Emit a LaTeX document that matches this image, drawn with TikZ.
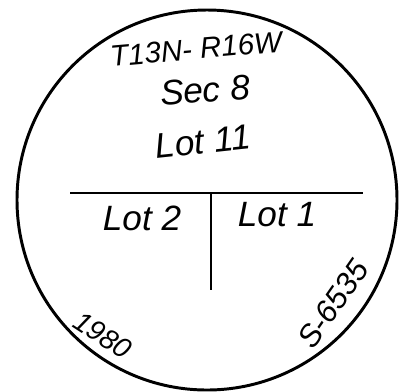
\documentclass[tikz,border=0pt]{standalone}
\usepackage{fontspec}
\setmainfont{Liberation Sans}
\tikzset{
  hand/.style={font=\fontsize{25}{28}\selectfont\itshape, inner sep=0pt},
  smallhand/.style={font=\fontsize{20}{23}\selectfont\itshape, inner sep=0pt}
}
\begin{document}
\begin{tikzpicture}[x=0.025cm,y=-0.025cm]
				\useasboundingbox (0,0) rectangle (399,391);
				\draw[line width=2.1pt] (207,200) circle [radius=190];
				\coordinate (west) at (70,193);
				\coordinate (east) at (363,193);
				\coordinate (mid) at (211,193);
				\coordinate (foot) at (211,290);
				\draw[line width=1.4pt] (west) -- (east);
				\draw[line width=1.4pt] (mid) -- (foot);
				\node[hand,font=\fontsize{21}{24}\selectfont\itshape,rotate=5] (twp) at (196,49) {T13N- R16W};
				\node[hand,rotate=4] (sec) at (205,90) {Sec 8};
				\node[hand,rotate=6] (lot11) at (203,142) {Lot 11};
				\node[hand] (lot2) at (142,218) {Lot 2};
				\node[hand] (lot1) at (277,215) {Lot 1};
				\node[smallhand,rotate=-33] (year) at (103,335) {1980};
				\node[smallhand,font=\fontsize{22}{25}\selectfont\itshape,rotate=55] (num) at (333,304) {S-6535};
\end{tikzpicture}
\end{document}
